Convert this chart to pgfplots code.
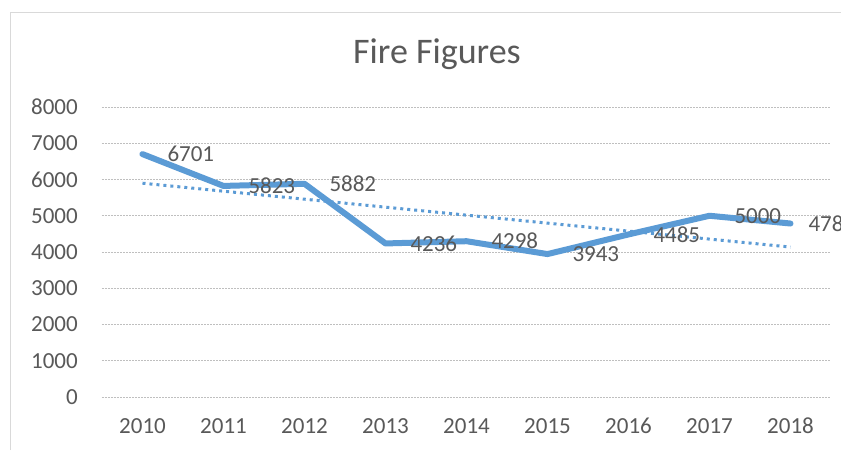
\documentclass[border=0pt]{standalone}
\usepackage{fontspec}
\setmainfont{Carlito}
\usepackage{pgfplots}
\usepackage{pgfplotstable}
\pgfplotsset{compat=1.18}
\definecolor{lineblue}{HTML}{5B9BD5}
\definecolor{txtgray}{HTML}{595959}
\definecolor{gridgray}{HTML}{BFBFBF}
\definecolor{bordergray}{HTML}{D9D9D9}

\pgfplotstableread{
x y label dx
0 6701 6701 22
1 5823 5823 22
2 5882 5882 22
3 4236 4236 22
4 4298 4298 22
5 3943 3943 22
6 4485 4485 22
7 5000 5000 22
8 4786 4786 15
}\firedata

\pgfplotstableread{
x y
0 5898
8 4136
}\trenddata

\begin{document}
\begin{tikzpicture}[x=1pt,y=1pt]
\useasboundingbox (0,0) rectangle (841,-450);
\fill[white] (0,0) rectangle (841,-450);
\draw[bordergray, line width=1pt] (10,-450) -- (10,-12) -- (841,-12);
\node[anchor=base, text=txtgray, font=\fontsize{36}{42}\selectfont, inner sep=0] at (437,-63) {Fire Figures};
\begin{axis}[
  at={(102pt,-397pt)}, anchor=south west,
  scale only axis, width=729pt, height=290pt,
  xmin=-0.5, xmax=8.5, ymin=0, ymax=8000,
  xtick={0,...,8},
  xticklabels={2010,2011,2012,2013,2014,2015,2016,2017,2018},
  ytick={0,1000,...,8000},
  axis line style={draw=none},
  major tick length=0pt,
  ymajorgrids,
  grid style={gridgray, line width=1pt, dash pattern=on 2pt off 1pt},
  /pgf/number format/assume math mode=true,
  /pgf/number format/1000 sep={},
  ticklabel style={font=\fontsize{23}{27}\selectfont, text=txtgray, inner sep=0pt},
  xticklabel style={anchor=north, yshift=-21pt},
  yticklabel style={anchor=east, xshift=-24pt},
  clip=false,
]
\addplot[lineblue, line width=6pt, line join=round, line cap=round,
  nodes near coords={\pgfplotspointmeta},
  point meta=explicit symbolic,
  visualization depends on={\thisrow{dx} \as \dx},
  nodes near coords style={anchor=west, xshift=\dx pt, inner sep=0pt, text=txtgray, font=\fontsize{23}{27}\selectfont},
] table[x=x, y=y, meta=label] {\firedata};
\addplot[lineblue, line width=3pt, dash pattern=on 3pt off 4pt] table[x=x,y=y] {\trenddata};
\end{axis}
\end{tikzpicture}
\end{document}
